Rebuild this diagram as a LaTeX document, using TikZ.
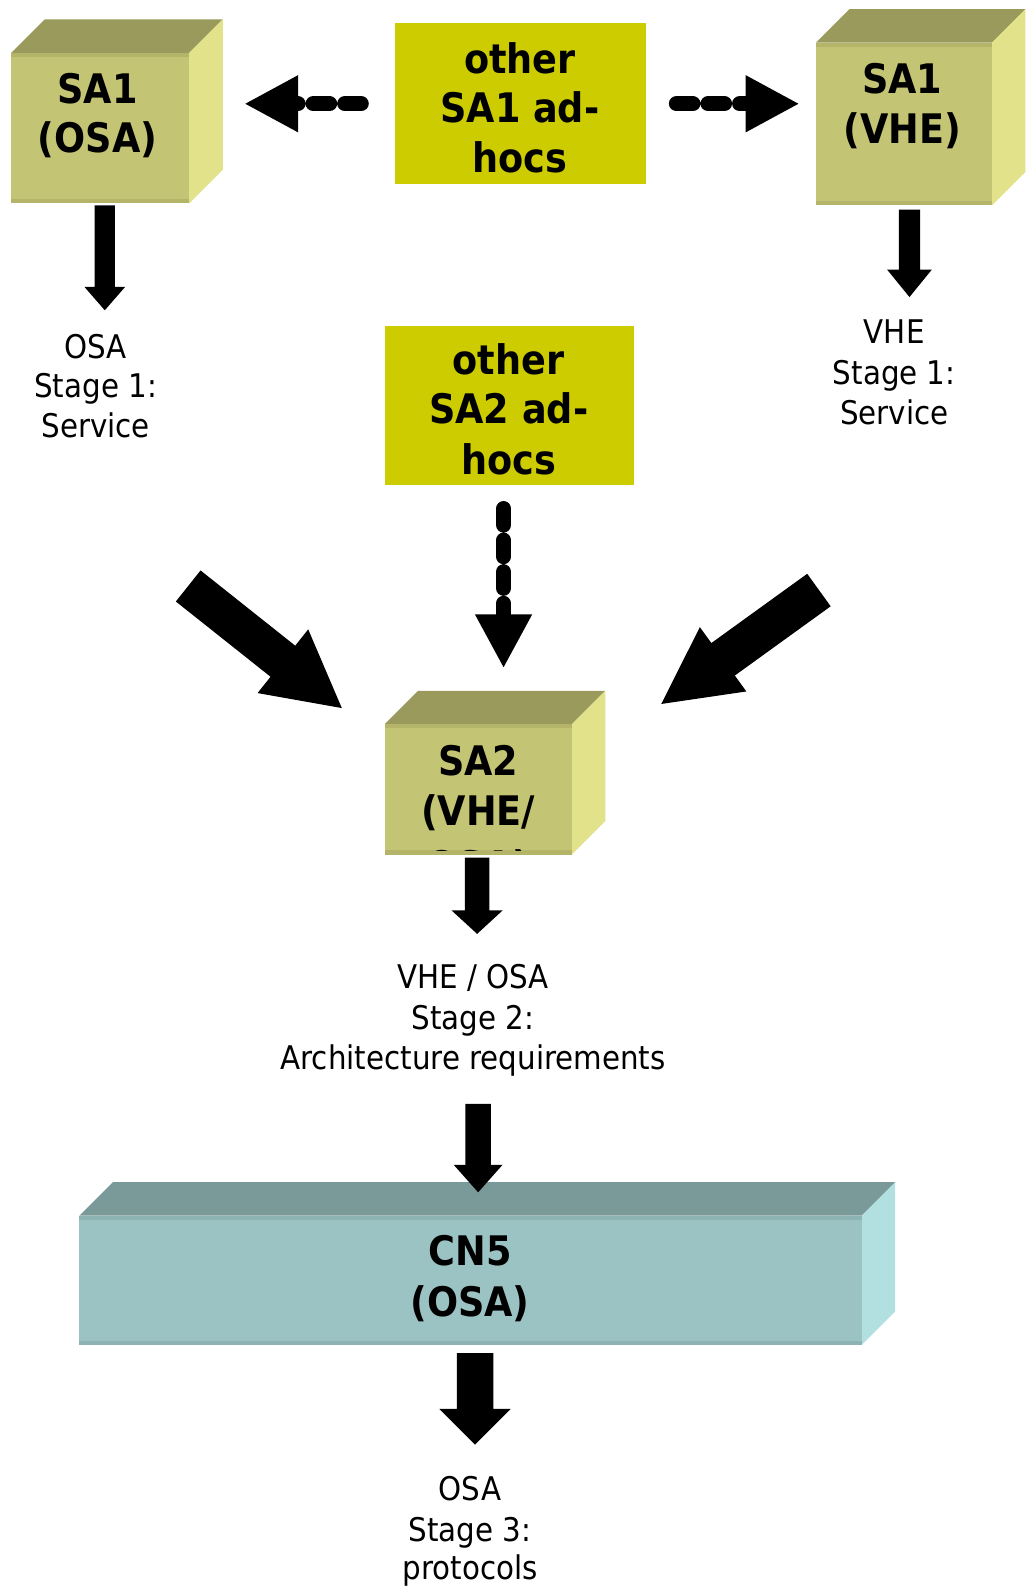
\documentclass[tikz,border=0pt]{standalone}
\usepackage{fontspec}
\setmainfont{DejaVu Sans}[FakeStretch=0.9]
\usetikzlibrary{calc,arrows.meta}
\definecolor{olivefront}{HTML}{C4C475}
\definecolor{olivetop}{HTML}{9A9A5C}
\definecolor{oliveside}{HTML}{E2E28A}
\definecolor{olivestrip}{HTML}{B5B56A}
\definecolor{cnfront}{HTML}{9CC3C3}
\definecolor{cntop}{HTML}{7A9999}
\definecolor{cnside}{HTML}{B2E0E0}
\definecolor{cnstrip}{HTML}{8DB3B3}
\definecolor{adhoc}{HTML}{CCCC00}
\newcommand\uf{1.0173}
\tikzset{
  lbl/.style={font=\fontsize{32.6}{39.7}\selectfont, anchor=base, inner sep=0pt},
  blbl/.style={font=\fontsize{40.7}{49.8}\selectfont\bfseries, anchor=base, inner sep=0pt},
  adhocbox/.style={fill=adhoc, inner sep=0pt, outer sep=0pt},
  dasharrow/.style={line width=15.3pt, line cap=round, dash pattern=on 16.3pt off 15.3pt,
    -{Triangle[length=54pt,width=53pt]}},
}
% cube: #1 name, #2 x1, #3 y1, #4 x2, #5 y2, #6 colour prefix
\newcommand\drawcube[6]{%
  \fill[#6top] (#2,#3) -- ++(33,-33) -- (#4+33,#3-33) -- (#4,#3) -- cycle;
  \fill[#6side] (#4,#3) -- (#4+33,#3-33) -- (#4+33,#5-33) -- (#4,#5) -- cycle;
  \node[fill=#6front, inner sep=0pt, outer sep=0pt,
        minimum width={(#4-#2)*\uf pt}, minimum height={(#5-#3)*\uf pt}]
        (#1) at ({(#2+#4)/2},{(#3+#5)/2}) {};
  \fill[#6strip] (#2,#3) rectangle (#4,#3+4);
  \fill[#6strip] (#2,#5-4) rectangle (#4,#5);
}
% block arrow: #1 start, #2 tip, #3 half shaft, #4 half head, #5 head length (units)
\newcommand\blockarrow[5]{%
  \pgfmathsetlengthmacro\baw{#3*\uf pt}%
  \pgfmathsetlengthmacro\bah{#4*\uf pt}%
  \pgfmathsetlengthmacro\bal{#5*\uf pt}%
  \coordinate (ba-h) at ($(#2)!\bal!(#1)$);
  \fill ($(#1)!\baw!90:(#2)$) -- ($(ba-h)!\baw!90:(#2)$) -- ($(ba-h)!\bah!90:(#2)$)
    -- (#2) -- ($(ba-h)!\bah!-90:(#2)$) -- ($(ba-h)!\baw!-90:(#2)$)
    -- ($(#1)!\baw!-90:(#2)$) -- cycle;
}
\begin{document}
\begin{tikzpicture}[x=\uf pt,y=-\uf pt]
\useasboundingbox (0,0) rectangle (1008.55,1567.87);
\fill[white] (0,0) rectangle (1008.55,1567.87);

% cubes
\drawcube{sa1osa}{11}{52}{186}{200}{olive}
\drawcube{sa1vhe}{802}{42}{975}{202}{olive}
\drawcube{sa2}{378}{712}{562}{840}{olive}
\drawcube{cn5}{78}{1195}{847}{1322}{cn}

% ad-hoc boxes
\node[adhocbox, minimum width={247*\uf pt}, minimum height={158*\uf pt}] (other1) at (511.5,102) {};
\node[adhocbox, minimum width={245*\uf pt}, minimum height={157*\uf pt}] (other2) at (500.5,398.5) {};

% bold labels
\node[blbl] (t-sa1a) at (96,102) {SA1};
\node[blbl] (t-sa1b) at (96,150) {(OSA)};
\node[blbl] (t-sa1c) at (887,92) {SA1};
\node[blbl] (t-sa1d) at (887,141) {(VHE)};
\node[blbl] (t-o1a) at (511,72) {other};
\node[blbl] (t-o1b) at (511,120) {SA1 ad-};
\node[blbl] (t-o1c) at (511,170) {hocs};
\node[blbl] (t-o2a) at (500,368) {other};
\node[blbl] (t-o2b) at (500,416) {SA2 ad-};
\node[blbl] (t-o2c) at (500,466) {hocs};
\node[blbl] (t-sa2a) at (470,762) {SA2};
\node[blbl] (t-sa2b) at (470,811) {(VHE/};
\begin{scope}
  \clip (378,712) rectangle (562,836);
  \node[blbl] (t-sa2c) at (470,866) {OSA)};
\end{scope}
\node[blbl] (t-cn5a) at (462,1244) {CN5};
\node[blbl] (t-cn5b) at (462,1294) {(OSA)};

% regular labels
\node[lbl] (s1a) at (94,352) {OSA};
\node[lbl] (s1b) at (94,391) {Stage 1:};
\node[lbl] (s1c) at (94,430) {Service};
\node[lbl] (v1a) at (879,338) {VHE};
\node[lbl] (v1b) at (879,378) {Stage 1:};
\node[lbl] (v1c) at (879,417) {Service};
\node[lbl] (s2a) at (465,972) {VHE / OSA};
\node[lbl] (s2b) at (465,1012) {Stage 2:};
\node[lbl] (s2c) at (465,1051) {Architecture requirements};
\node[lbl] (s3a) at (462,1475) {OSA};
\node[lbl] (s3b) at (462,1515) {Stage 3:};
\node[lbl] (s3c) at (462,1553) {protocols};

% arrow end points
\coordinate (a1s) at (103,202);  \coordinate (a1e) at (103,305);
\coordinate (a2s) at (894,206);  \coordinate (a2e) at (894,292);
\coordinate (a3s) at (469,843);  \coordinate (a3e) at (469,918);
\coordinate (a4s) at (470,1085); \coordinate (a4e) at (470,1172);
\coordinate (a5s) at (467,1330); \coordinate (a5e) at (467,1420);
\coordinate (bls) at (185,576);  \coordinate (ble) at (336,696);
\coordinate (brs) at (805,580);  \coordinate (bre) at (650,692);
\coordinate (dls) at (355,102);  \coordinate (dle) at (240,102);
\coordinate (drs) at (665,102);  \coordinate (dre) at (786,102);
\coordinate (dvs) at (495,500);  \coordinate (dve) at (495,657);

% solid block arrows
\blockarrow{a1s}{a1e}{10}{20}{23}
\blockarrow{a2s}{a2e}{10.5}{22}{27}
\blockarrow{a3s}{a3e}{12}{25}{23}
\blockarrow{a4s}{a4e}{12.5}{24}{27}
\blockarrow{a5s}{a5e}{18}{35}{35}
\blockarrow{bls}{ble}{19.5}{40}{74}
\blockarrow{brs}{bre}{19.7}{39}{75}

% dashed arrows
\draw[dasharrow] (dls) -- (dle);
\draw[dasharrow] (drs) -- (dre);
\draw[dasharrow] (dvs) -- (dve);
\end{tikzpicture}
\end{document}
